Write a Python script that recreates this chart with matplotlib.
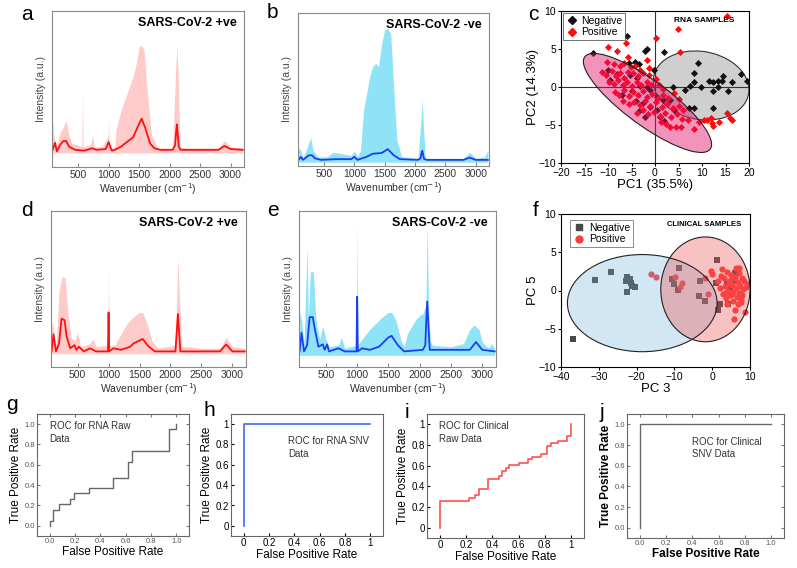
import matplotlib
matplotlib.use("Agg")
import matplotlib.pyplot as plt
from matplotlib.patches import Ellipse
from matplotlib.lines import Line2D

plt.rcParams['font.family'] = ['Liberation Sans', 'DejaVu Sans']

# ---------------- spectra data (relative intensity, axes 0..1) ----------------
a_mean_wn = [80,100,120,150,200,250,300,350,450,600,730,800,950,1000,1050,1100,1200,1300,1400,1480,
             1540,1600,1680,1750,1850,2050,2090,2105,2120,2135,2150,2180,2800,2900,3000,3200]
a_mean = [0.11,0.13,0.155,0.10,0.14,0.165,0.168,0.13,0.11,0.105,0.12,0.11,0.115,0.16,0.105,0.11,0.13,0.16,0.19,0.26,
          0.31,0.25,0.15,0.12,0.11,0.11,0.14,0.22,0.274,0.2,0.13,0.11,0.11,0.135,0.115,0.11]
a_band_wn = [80,90,100,150,200,250,300,350,400,500,560,570,580,700,740,760,900,990,1000,1010,
             1050,1100,1120,1200,1300,1400,1450,1500,1540,1580,1620,1700,1800,2050,2100,2120,2140,2170,2300,2800,
             2900,3000,3200]
a_band_up = [0.3,0.25,0.2,0.13,0.22,0.25,0.3,0.2,0.15,0.14,0.13,0.49,0.13,0.14,0.2,0.13,0.13,0.2,0.3,0.14,
             0.12,0.13,0.24,0.36,0.47,0.58,0.66,0.77,0.78,0.75,0.54,0.21,0.12,0.12,0.64,0.77,0.6,0.13,0.12,0.12,
             0.17,0.13,0.12]
a_band_low = 0.09

b_mean_wn = [80,100,120,150,200,250,300,350,450,700,950,1000,1050,1200,1300,1450,1550,1650,1750,2050,
             2090,2105,2120,2135,2150,2200,2800,2900,3000,3200]
b_mean = [0.04,0.05,0.06,0.04,0.055,0.07,0.07,0.05,0.04,0.045,0.045,0.06,0.04,0.06,0.08,0.085,0.11,0.07,0.045,0.04,
          0.05,0.08,0.10,0.07,0.045,0.04,0.04,0.055,0.04,0.04]
b_band_wn = [80,100,120,150,200,280,320,400,550,650,800,950,1000,1050,1100,1150,1250,1300,1350,1400,
             1450,1500,1550,1600,1650,1700,1780,2050,2100,2120,2140,2170,2800,2900,3000,3150,3200]
b_band_up = [0.12,0.11,0.1,0.05,0.1,0.185,0.1,0.06,0.06,0.09,0.08,0.07,0.1,0.06,0.1,0.36,0.58,0.65,0.67,0.65,
             0.8,0.89,0.9,0.86,0.5,0.17,0.06,0.05,0.32,0.43,0.25,0.05,0.05,0.09,0.05,0.06,0.1]
b_band_low = 0.025

d_mean_wn = [80,110,150,200,240,290,320,380,450,480,520,600,700,800,990,1000,1010,1080,1200,1350,
             1400,1500,1550,1650,1750,2080,2105,2120,2135,2160,2800,2900,3000,3200]
d_mean = [0.1,0.21,0.1,0.15,0.31,0.3,0.2,0.12,0.14,0.11,0.13,0.1,0.12,0.1,0.1,0.35,0.1,0.12,0.11,0.13,
          0.15,0.17,0.18,0.13,0.1,0.1,0.25,0.34,0.25,0.1,0.1,0.145,0.1,0.1]
d_band_wn = [80,110,150,200,250,300,340,400,450,500,550,700,750,800,990,1000,1010,1100,1200,1300,
             1400,1500,1550,1620,1700,1800,2080,2120,2150,2180,2300,2500,2800,2900,3000,3200]
d_band_up = [0.29,0.25,0.12,0.49,0.58,0.57,0.35,0.18,0.17,0.22,0.13,0.15,0.18,0.13,0.14,0.65,0.14,0.14,0.21,0.28,
             0.32,0.35,0.35,0.28,0.17,0.12,0.14,0.7,0.4,0.13,0.13,0.12,0.12,0.19,0.13,0.12]
d_band_low = 0.085

e_mean_wn = [80,110,150,200,240,290,320,380,450,480,520,550,700,800,990,1000,1010,1080,1200,1350,
             1400,1500,1550,1650,1750,2050,2090,2105,2120,2135,2160,2800,2900,3000,3200]
e_mean = [0.1,0.22,0.1,0.14,0.32,0.32,0.25,0.13,0.145,0.11,0.145,0.1,0.12,0.1,0.1,0.45,0.1,0.12,0.11,0.13,
          0.15,0.19,0.2,0.14,0.1,0.11,0.14,0.3,0.42,0.3,0.11,0.11,0.16,0.11,0.1]
e_band_wn = [80,110,150,200,220,250,300,340,400,450,500,550,700,750,800,990,1000,1010,1100,1200,
             1300,1400,1500,1550,1620,1700,1750,1800,1900,1950,2000,2050,2100,2120,2140,2170,2200,2500,2700,2800,
             2870,2950,3000,3100,3150,3200]
e_band_up = [0.36,0.3,0.15,0.77,0.3,0.61,0.61,0.3,0.18,0.26,0.18,0.13,0.14,0.19,0.12,0.14,0.92,0.14,0.19,0.24,
             0.28,0.32,0.35,0.35,0.3,0.17,0.13,0.21,0.28,0.31,0.33,0.34,0.4,0.92,0.4,0.17,0.14,0.13,0.15,0.24,
             0.27,0.24,0.16,0.12,0.15,0.12]
e_band_low = 0.075

spec_ticks = [500, 1000, 1500, 2000, 2500, 3000]

# ---------------- PCA data ----------------
c_neg = [(-13.1,4.5),(-5.9,6.7),(-2.1,4.8),(-1.7,5.0),(1.9,4.6),(-4.3,3.3),(-3.3,3.0),(-0.2,2.3),(-5.5,3.1),
         (9.1,3.1),(8.4,1.9),(8.2,0.7),(11.5,0.8),(12.3,0.6),(13.3,0.8),(14.2,0.8),(14.5,1.5),(16.3,0.6),
         (18.4,1.7),(19.5,0.8),(3.8,0.0),(6.4,-0.4),(7.4,0.15),(9.7,0.0),(12.4,-0.5),(13.5,0.05),(15.6,-0.5),
         (7.3,-2.8),(8.2,-2.8),(12.3,-2.8),
         (-9.9,2.2),(-9.6,0.9),(-8.0,1.7),(-5.3,1.6),(-3.9,1.2),(-3.2,0.1),(-1.8,0.0),(-1.1,-0.4),(0.35,-1.25),
         (1.8,-1.7),(3.2,-1.7),(-1.1,-2.6),(0.35,-3.0),(-2.5,-2.1),(-3.5,-3.2),(1.1,-3.9),(-2.1,-3.9),
         (-7.0,-1.0),(-5.0,-0.5),(-4.0,-1.8),(2.0,-4.5),(4.0,-3.0)]
c_pos = [(-10.0,5.3),(-8.0,4.8),(-6.2,5.8),(-5.8,4.0),(-1.6,3.5),(0.2,6.4),(4.8,7.6),(5.3,4.6),(15.3,9.3),
         (-1.3,2.5),(-4.3,2.7),
         (-10.2,3.3),(-8.8,3.0),(-7.5,2.8),(-6.5,3.2),(-5.2,2.6),(-3.2,2.2),
         (-11.2,2.0),(-10.5,1.6),(-9.2,2.1),(-8.4,1.4),(-7.4,1.9),(-6.6,1.2),(-5.8,2.0),(-4.6,1.8),(-3.6,1.4),
         (-2.6,1.9),(-1.3,1.6),(0.2,1.1),
         (-9.8,0.6),(-8.8,0.4),(-7.8,0.9),(-6.9,0.3),(-5.9,0.7),(-4.9,0.1),(-3.9,0.6),(-2.9,0.2),(-1.8,0.7),
         (-0.8,0.3),(0.9,0.2),(1.6,-0.3),
         (-8.6,-0.6),(-7.6,-1.0),(-6.6,-0.4),(-5.6,-1.2),(-4.6,-0.7),(-3.6,-1.1),(-2.6,-0.5),(-1.6,-1.3),
         (-0.6,-0.9),(0.6,-1.4),(1.8,-1.0),(2.8,-1.5),(4.0,-0.8),(5.0,-1.6),
         (-6.8,-1.8),(-5.6,-2.2),(-4.4,-2.0),(-3.2,-2.4),(-2.2,-1.9),(-1.0,-2.5),(0.2,-2.0),(1.4,-2.6),
         (2.6,-2.2),(3.8,-2.8),(5.0,-2.5),(6.0,-3.0),
         (-3.8,-3.4),(-2.6,-3.0),(-1.4,-3.6),(-0.2,-3.3),(1.0,-3.8),(2.2,-3.4),(3.4,-4.0),(4.6,-3.6),(5.8,-4.2),
         (1.2,-4.6),(2.4,-4.9),(3.2,-5.2),(4.4,-5.3),(5.6,-5.3),(7.1,-4.4),(8.2,-5.5),
         (9.4,-4.6),(10.4,-4.4),(11.0,-4.4),(12.2,-4.8),(12.3,-5.1),(13.6,-4.6),(15.3,-3.4),(16.0,-4.1),
         (16.4,-4.3),(12.0,-4.1)]

f_neg = [(-36.7,-6.3),(-31.0,1.4),(-26.9,2.4),(-22.5,1.7),(-22.2,1.3),(-21.5,1.0),(-21.2,0.6),(-20.5,0.5),
         (-22.5,-0.2),(-21.8,1.5),(-22.8,1.2),(-8.7,3.0),(-10.7,1.5),(-10.1,0.8),(-9.0,0.1),(-3.1,1.2),
         (-3.4,-0.7),(-2.0,-1.4),(1.4,4.0),(2.1,-1.8),(1.6,-2.5),(4.2,-1.7),(4.7,0.1),(5.6,1.3),(6.0,2.3),
         (3.8,0.9),(1.0,1.0)]
f_pos = [(-16.3,2.1),(-15.0,1.8),(-9.8,1.7),(-8.1,1.0),(-8.4,0.5),(-1.9,1.6),(-1.0,-0.4),(-0.3,2.6),(-0.1,2.2),
         (1.5,1.2),(2.0,0.3),(2.5,2.8),(2.8,-0.5),(3.0,1.6),(3.3,0.6),(3.6,-1.0),(4.0,2.4),(4.2,0.0),(4.4,1.2),
         (4.7,-0.6),(5.0,2.0),(5.2,0.7),(5.4,-1.4),(5.6,-0.2),(5.8,1.6),(6.0,-2.6),(5.8,-3.7),(6.2,2.9),
         (6.3,0.3),(6.5,-0.9),(6.7,1.1),(7.0,2.3),(7.1,-0.3),(7.2,3.0),(7.4,0.6),(7.6,-1.5),(7.8,1.6),
         (8.0,-0.6),(8.2,0.2),(8.5,1.3),(8.7,-2.8),(9.0,0.5),(9.6,0.9),(3.5,-0.3),(4.8,0.9),(6.9,-1.8),
         (5.3,-0.5),(2.2,1.9),(3.9,-1.8),(7.5,-1.1),(6.1,1.8)]

# ---------------- ROC data ----------------
g_fpr = [0,0,0.03,0.03,0.07,0.07,0.16,0.16,0.19,0.19,0.31,0.31,0.5,0.5,0.62,0.62,0.65,0.65,0.94,0.94,1.0,1.0]
g_tpr = [0,0.05,0.05,0.16,0.16,0.21,0.21,0.26,0.26,0.32,0.32,0.37,0.37,0.47,0.47,0.63,0.63,0.74,0.74,0.95,0.95,1.0]
h_fpr = [0,0,1]
h_tpr = [0,1,1]
i_fpr = [0,0,0.22,0.22,0.27,0.27,0.3,0.3,0.37,0.37,0.45,0.45,0.47,0.47,0.5,0.5,0.53,0.53,0.6,0.6,0.67,0.67,
         0.7,0.7,0.77,0.77,0.82,0.82,0.85,0.85,0.9,0.9,0.97,0.97,1,1]
i_tpr = [0,0.26,0.26,0.29,0.29,0.32,0.32,0.37,0.37,0.47,0.47,0.5,0.5,0.55,0.55,0.58,0.58,0.61,0.61,0.63,0.63,0.66,
         0.66,0.68,0.68,0.71,0.71,0.79,0.79,0.82,0.82,0.84,0.84,0.89,0.89,1]
j_fpr = [0,0,1]
j_tpr = [0,1,1]

W, H = 797, 568
fig = plt.figure(figsize=(W/100, H/100), dpi=100)


def add_ax(l, r, t, b):
    return fig.add_axes([l/W, 1-b/H, (r-l)/W, (b-t)/H])


def spectrum(ax, bwn, bup, blow, mwn, mval, fc, lc, title):
    ax.fill_between(bwn, blow, bup, color=fc, lw=0)
    ax.plot(mwn, mval, color=lc, lw=1.3)
    ax.set_xlim(70, 3220)
    ax.set_ylim(0, 1)
    ax.set_yticks([])
    ax.set_xticks(spec_ticks)
    for s in ax.spines.values():
        s.set_color('#888888')
        s.set_linewidth(0.8)
    ax.tick_params(axis='x', labelsize=7.5, colors='#888888', labelcolor='#333333',
                   direction='in', length=3, pad=2)
    ax.set_xlabel('Wavenumber (cm$^{-1}$)', fontsize=7.5, color='#333333', labelpad=1)
    ax.set_ylabel('Intensity (a.u.)', fontsize=7.5, color='#444444', labelpad=4)
    ax.text(0.96, 0.92, title, transform=ax.transAxes, ha='right', va='center',
            fontsize=9, fontweight='bold')


pink_fill = '#ffcaca'
cyan_fill = '#8fe3f7'
spectrum(add_ax(52, 244, 11, 167), a_band_wn, a_band_up, a_band_low, a_mean_wn, a_mean,
         pink_fill, '#ff1010', 'SARS-CoV-2 +ve')
spectrum(add_ax(298, 489, 13, 166), b_band_wn, b_band_up, b_band_low, b_mean_wn, b_mean,
         cyan_fill, '#1a3ff0', 'SARS-CoV-2 -ve')
spectrum(add_ax(51, 246, 211, 367), d_band_wn, d_band_up, d_band_low, d_mean_wn, d_mean,
         pink_fill, '#ff1010', 'SARS-CoV-2 +ve')
spectrum(add_ax(299, 496, 211, 367), e_band_wn, e_band_up, e_band_low, e_mean_wn, e_mean,
         cyan_fill, '#1a3ff0', 'SARS-CoV-2 -ve')

# ---------------- panel c ----------------
axc = add_ax(561, 749, 11, 163)
axc.add_patch(Ellipse((9.8, 0.2), 20.4, 9.0, angle=-4, facecolor='#cfcfcf', edgecolor='#333333',
                      lw=0.8, zorder=1))
axc.scatter([p[0] for p in c_neg], [p[1] for p in c_neg], marker='D', s=13, color='#111111',
            linewidths=0, zorder=3)
axc.scatter([p[0] for p in c_pos], [p[1] for p in c_pos], marker='D', s=13, color='#ff0a0a',
            linewidths=0, zorder=3)
axc.add_patch(Ellipse((-1.6, -2.1), 29.5, 6.6, angle=-23, facecolor='#e0106a', alpha=0.45,
                      edgecolor='none', zorder=4))
axc.add_patch(Ellipse((-1.6, -2.1), 29.5, 6.6, angle=-23, facecolor='none', edgecolor='#222222',
                      lw=0.8, zorder=5))
axc.axhline(0, color='#333333', lw=0.8, zorder=2)
axc.axvline(0, color='#333333', lw=0.8, zorder=2)
axc.set_xlim(-20, 20)
axc.set_ylim(-10, 10)
axc.set_xticks(range(-20, 21, 5))
axc.set_yticks([-10, -5, 0, 5, 10])
axc.tick_params(labelsize=7.5, length=2, pad=1.5)
axc.set_xlabel('PC1 (35.5%)', fontsize=9.5, labelpad=1)
axc.set_ylabel('PC2 (14.3%)', fontsize=9.5, labelpad=0)
axc.text(4.0, 8.7, 'RNA SAMPLES', fontsize=6, fontweight='bold', va='center')
hc = [Line2D([], [], marker='D', color='#111111', ls='none', markersize=4, label='Negative'),
      Line2D([], [], marker='D', color='#ff0a0a', ls='none', markersize=4, label='Positive')]
lc = axc.legend(handles=hc, loc='upper left', bbox_to_anchor=(0.0, 1.0), fontsize=7.5, frameon=True,
                fancybox=False, edgecolor='#333333', borderpad=0.25, handletextpad=0.3,
                labelspacing=0.15, handlelength=1.2, borderaxespad=0.2)
lc.get_frame().set_linewidth(0.6)

# ---------------- panel f ----------------
axf = add_ax(561, 750, 214, 367)
axf.scatter([p[0] for p in f_neg], [p[1] for p in f_neg], marker='s', s=16, color='#484848',
            linewidths=0, zorder=2)
axf.scatter([p[0] for p in f_pos], [p[1] for p in f_pos], marker='o', s=20, color='#ff3c3c',
            linewidths=0, zorder=2)
axf.add_patch(Ellipse((-18.5, -1.65), 39.6, 12.7, angle=0, facecolor='#6aaedc', alpha=0.3,
                      edgecolor='none', zorder=3))
axf.add_patch(Ellipse((-1.8, 0.15), 23.6, 13.7, angle=0, facecolor='#f05050', alpha=0.35,
                      edgecolor='none', zorder=4))
axf.add_patch(Ellipse((-18.5, -1.65), 39.6, 12.7, facecolor='none', edgecolor='#222222', lw=0.8, zorder=5))
axf.add_patch(Ellipse((-1.8, 0.15), 23.6, 13.7, facecolor='none', edgecolor='#222222', lw=0.8, zorder=5))
axf.set_xlim(-40, 10)
axf.set_ylim(-10, 10)
axf.set_xticks([-40, -30, -20, -10, 0, 10])
axf.set_yticks([-10, -5, 0, 5, 10])
axf.tick_params(labelsize=7.5, length=2, pad=1.5)
axf.set_xlabel('PC 3', fontsize=9.5, labelpad=1)
axf.set_ylabel('PC 5', fontsize=9.5, labelpad=0)
axf.text(-12, 8.6, 'CLINICAL SAMPLES', fontsize=5.5, fontweight='bold', va='center')
hf = [Line2D([], [], marker='s', color='#484848', ls='none', markersize=4.5, label='Negative'),
      Line2D([], [], marker='o', color='#ff3c3c', ls='none', markersize=5, label='Positive')]
lf = axf.legend(handles=hf, loc='upper left', bbox_to_anchor=(0.05, 0.96), fontsize=7.5, frameon=True,
                fancybox=False, edgecolor='#555555', borderpad=0.25, handletextpad=0.3,
                labelspacing=0.15, handlelength=1.2, borderaxespad=0.0)
lf.get_frame().set_linewidth(0.6)

# ---------------- ROC panels ----------------
def roc(ax, fpr, tpr, color, text, tx, ty, small, bold=False, intfmt=False):
    ax.plot(fpr, tpr, color=color, lw=1.2 if not small else 1.0)
    ax.set_xlim(-0.1, 1.1)
    ax.set_ylim(-0.1, 1.1)
    t = [0, 0.2, 0.4, 0.6, 0.8, 1.0]
    ax.set_xticks(t)
    ax.set_yticks(t)
    if intfmt:
        lab = ['0', '0.2', '0.4', '0.6', '0.8', '1']
    else:
        lab = ['0.0', '0.2', '0.4', '0.6', '0.8', '1.0']
    ax.set_xticklabels(lab)
    ax.set_yticklabels(lab)
    if small:
        ax.tick_params(labelsize=5.5, labelcolor='#555555', length=2, pad=1.5, colors='#777777',
                       top=True, right=True, direction='in')
    else:
        ax.tick_params(labelsize=7, length=2, pad=1.5, direction='in')
    for s in ax.spines.values():
        s.set_color('#666666')
        s.set_linewidth(0.8)
    fw = 'bold' if bold else 'normal'
    ax.set_xlabel('False Positive Rate', fontsize=8.5, fontweight=fw, labelpad=1)
    ax.set_ylabel('True Positive Rate', fontsize=8.5, fontweight=fw, labelpad=2)
    ax.text(tx, ty, text, fontsize=7, color='#333333', va='top', ha='left', linespacing=1.3)


roc(add_ax(37, 189, 414, 536), g_fpr, g_tpr, '#666666', 'ROC for RNA Raw\nData', 0.0, 1.03, True)
roc(add_ax(231, 383, 414, 536), h_fpr, h_tpr, '#3c6cf0', 'ROC for RNA SNV\nData', 0.35, 0.88, False,
    intfmt=True)
roc(add_ax(427, 584, 414, 538), i_fpr, i_tpr, '#ff5050', 'ROC for Clinical\nRaw Data', -0.01, 1.03, False,
    intfmt=True)
roc(add_ax(627, 784, 414, 538), j_fpr, j_tpr, '#666666', 'ROC for Clinical\nSNV Data', 0.40, 0.88, True,
    bold=True)

# ---------------- panel letters ----------------
for lab, x, y in [('a', 27, 14), ('b', 272, 13), ('c', 533, 15), ('d', 27, 210), ('e', 273, 210),
                  ('f', 536, 210), ('g', 12, 405), ('h', 209, 410), ('i', 407, 412), ('j', 602, 413)]:
    fig.text(x/W, 1-y/H, lab, fontsize=15, ha='center', va='center')

fig.savefig('out.png', dpi=100)
